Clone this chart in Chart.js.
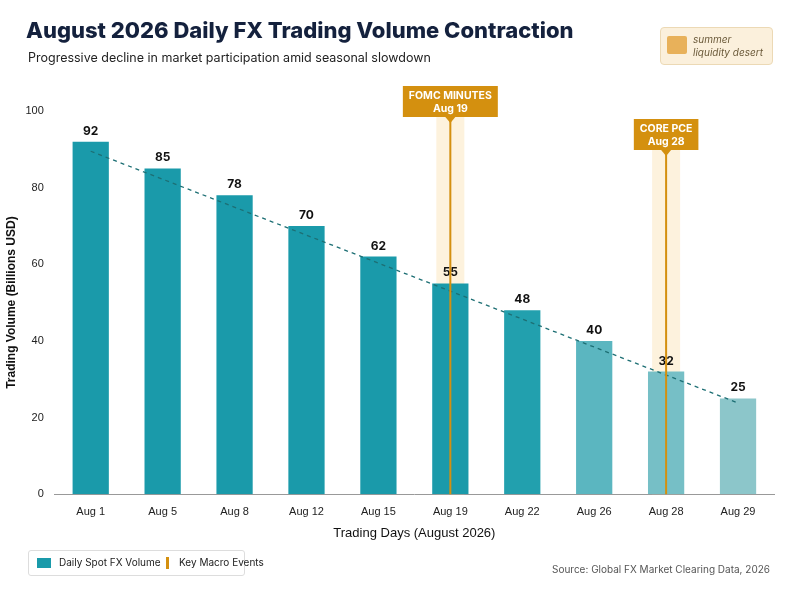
<!DOCTYPE html>
<html lang="en">
<head>
<meta charset="UTF-8" />
<title>August 2026 Daily FX Trading Volume Contraction</title>
<style>
    body { margin: 0; background: #fff; font-family: 'Inter', 'Noto Sans', sans-serif; }
    .wrap { position: relative; width: 800px; height: 597px; }
    h1 { position: absolute; left: 26px; top: 17px; margin: 0; font-size: 22px; font-weight: 800; color: #14213d; }
    .sub { position: absolute; left: 28px; top: 50px; font-size: 12.5px; color: #222; }
    .badge { position: absolute; left: 660px; top: 27px; width: 111px; height: 36px; background: #fbf0dc;
             border: 1px solid #ecd9b5; border-radius: 4px; font-size: 10px; font-style: italic; color: #6b5a3a; white-space: nowrap; }
    .badge .ic { position: absolute; left: 6px; top: 8px; width: 20px; height: 18px; background: #e8b15a; border-radius: 2px; }
    .badge span { position: absolute; left: 32px; top: 5px; line-height: 13px; }
    .legend { position: absolute; left: 28px; top: 550px; width: 215px; height: 24px; border: 1px solid #ddd;
              border-radius: 3px; font-size: 10px; color: #222; white-space: nowrap; }
    .legend i { position: absolute; top: 7px; }
    .src { position: absolute; right: 30px; top: 563px; font-size: 10px; color: #555; }
    canvas { position: absolute; left: 0; top: 0; }
</style>
</head>
<body>
<div class="wrap">
    <canvas id="c" width="800" height="597"></canvas>
    <h1>August 2026 Daily FX Trading Volume Contraction</h1>
    <div class="sub">Progressive decline in market participation amid seasonal slowdown</div>
    <div class="badge"><div class="ic"></div><span>summer<br>liquidity desert</span></div>
    <div class="legend">
        <i style="left:8px;width:14px;height:10px;background:#1a9aaa"></i>
        <span style="position:absolute;left:30px;top:5px">Daily Spot FX Volume</span>
        <i style="left:137px;width:3px;height:12px;top:6px;background:#d4900f"></i>
        <span style="position:absolute;left:150px;top:5px">Key Macro Events</span>
    </div>
    <div class="src">Source: Global FX Market Clearing Data, 2026</div>
</div>
<script src="https://cdn.jsdelivr.net/npm/chart.js"></script>
<script>
    const days = ['Aug 1', 'Aug 5', 'Aug 8', 'Aug 12', 'Aug 15', 'Aug 19', 'Aug 22', 'Aug 26', 'Aug 28', 'Aug 29'];
    const volume = [92, 85, 78, 70, 62, 55, 48, 40, 32, 25];
    const barColors = ['#1a9aaa', '#1a9aaa', '#1a9aaa', '#1a9aaa', '#1a9aaa', '#1a9aaa', '#22a0ae', '#5bb6c0', '#76bfc6', '#8cc6ca'];
    const trend = [89.5, null, null, null, null, null, null, null, null, 23.8];
    const events = [
        { day: 'Aug 19', label: 'FOMC MINUTES', date: 'Aug 19', top: 86 },
        { day: 'Aug 28', label: 'CORE PCE', date: 'Aug 28', top: 119 }
    ];

    const eventPlugin = {
        id: 'events',
        beforeDatasetsDraw(chart) {
            const { ctx, chartArea, scales } = chart;
            events.forEach(e => {
                const x = scales.x.getPixelForValue(days.indexOf(e.day));
                ctx.fillStyle = 'rgba(250, 226, 180, 0.45)';
                ctx.fillRect(x - 14, e.top + 30, 28, chartArea.bottom - e.top - 30);
            });
        },
        afterDatasetsDraw(chart) {
            const { ctx, chartArea, scales } = chart;
            const meta = chart.getDatasetMeta(0);
            ctx.save();
            ctx.font = 'bold 12px Inter, sans-serif';
            ctx.fillStyle = '#111';
            ctx.textAlign = 'center';
            meta.data.forEach((bar, i) => ctx.fillText(volume[i], bar.x, bar.y - 7));
            events.forEach(e => {
                const x = scales.x.getPixelForValue(days.indexOf(e.day));
                ctx.strokeStyle = '#d4900f';
                ctx.lineWidth = 2;
                ctx.beginPath();
                ctx.moveTo(x, e.top + 30);
                ctx.lineTo(x, chartArea.bottom);
                ctx.stroke();
                ctx.font = 'bold 10.5px Inter, sans-serif';
                const w = ctx.measureText(e.label).width + 12;
                ctx.fillStyle = '#d4900f';
                ctx.fillRect(x - w / 2, e.top, w, 31);
                ctx.beginPath();
                ctx.moveTo(x - 5, e.top + 31); ctx.lineTo(x + 5, e.top + 31); ctx.lineTo(x, e.top + 37);
                ctx.fill();
                ctx.fillStyle = '#fff';
                ctx.fillText(e.label, x, e.top + 13);
                ctx.fillText(e.date, x, e.top + 26);
            });
            ctx.restore();
        }
    };

    new Chart(document.getElementById('c'), {
        type: 'bar',
        data: {
            labels: days,
            datasets: [
                { data: volume, backgroundColor: barColors, barPercentage: 0.7, categoryPercentage: 0.72, order: 2 },
                { type: 'line', data: trend, spanGaps: true, borderColor: '#1d6f74', borderWidth: 1.3,
                  borderDash: [4, 4], pointRadius: 0, order: 1 }
            ]
        },
        options: {
            responsive: false,
            animation: false,
            layout: { padding: { top: 111, left: 0, right: 26, bottom: 52 } },
            plugins: { legend: { display: false }, tooltip: { enabled: false } },
            scales: {
                x: {
                    grid: { display: false },
                    border: { color: '#999' },
                    ticks: { color: '#222', font: { size: 11 } },
                    title: { display: true, text: 'Trading Days (August 2026)', color: '#111', font: { size: 13 } }
                },
                y: {
                    min: 0, max: 100,
                    grid: { display: false },
                    border: { display: false },
                    ticks: { stepSize: 20, color: '#222', font: { size: 11 } },
                    title: { display: true, text: 'Trading Volume (Billions USD)', color: '#111', font: { size: 12, weight: 'bold' } }
                }
            }
        },
        plugins: [eventPlugin]
    });
</script>
</body>
</html>
